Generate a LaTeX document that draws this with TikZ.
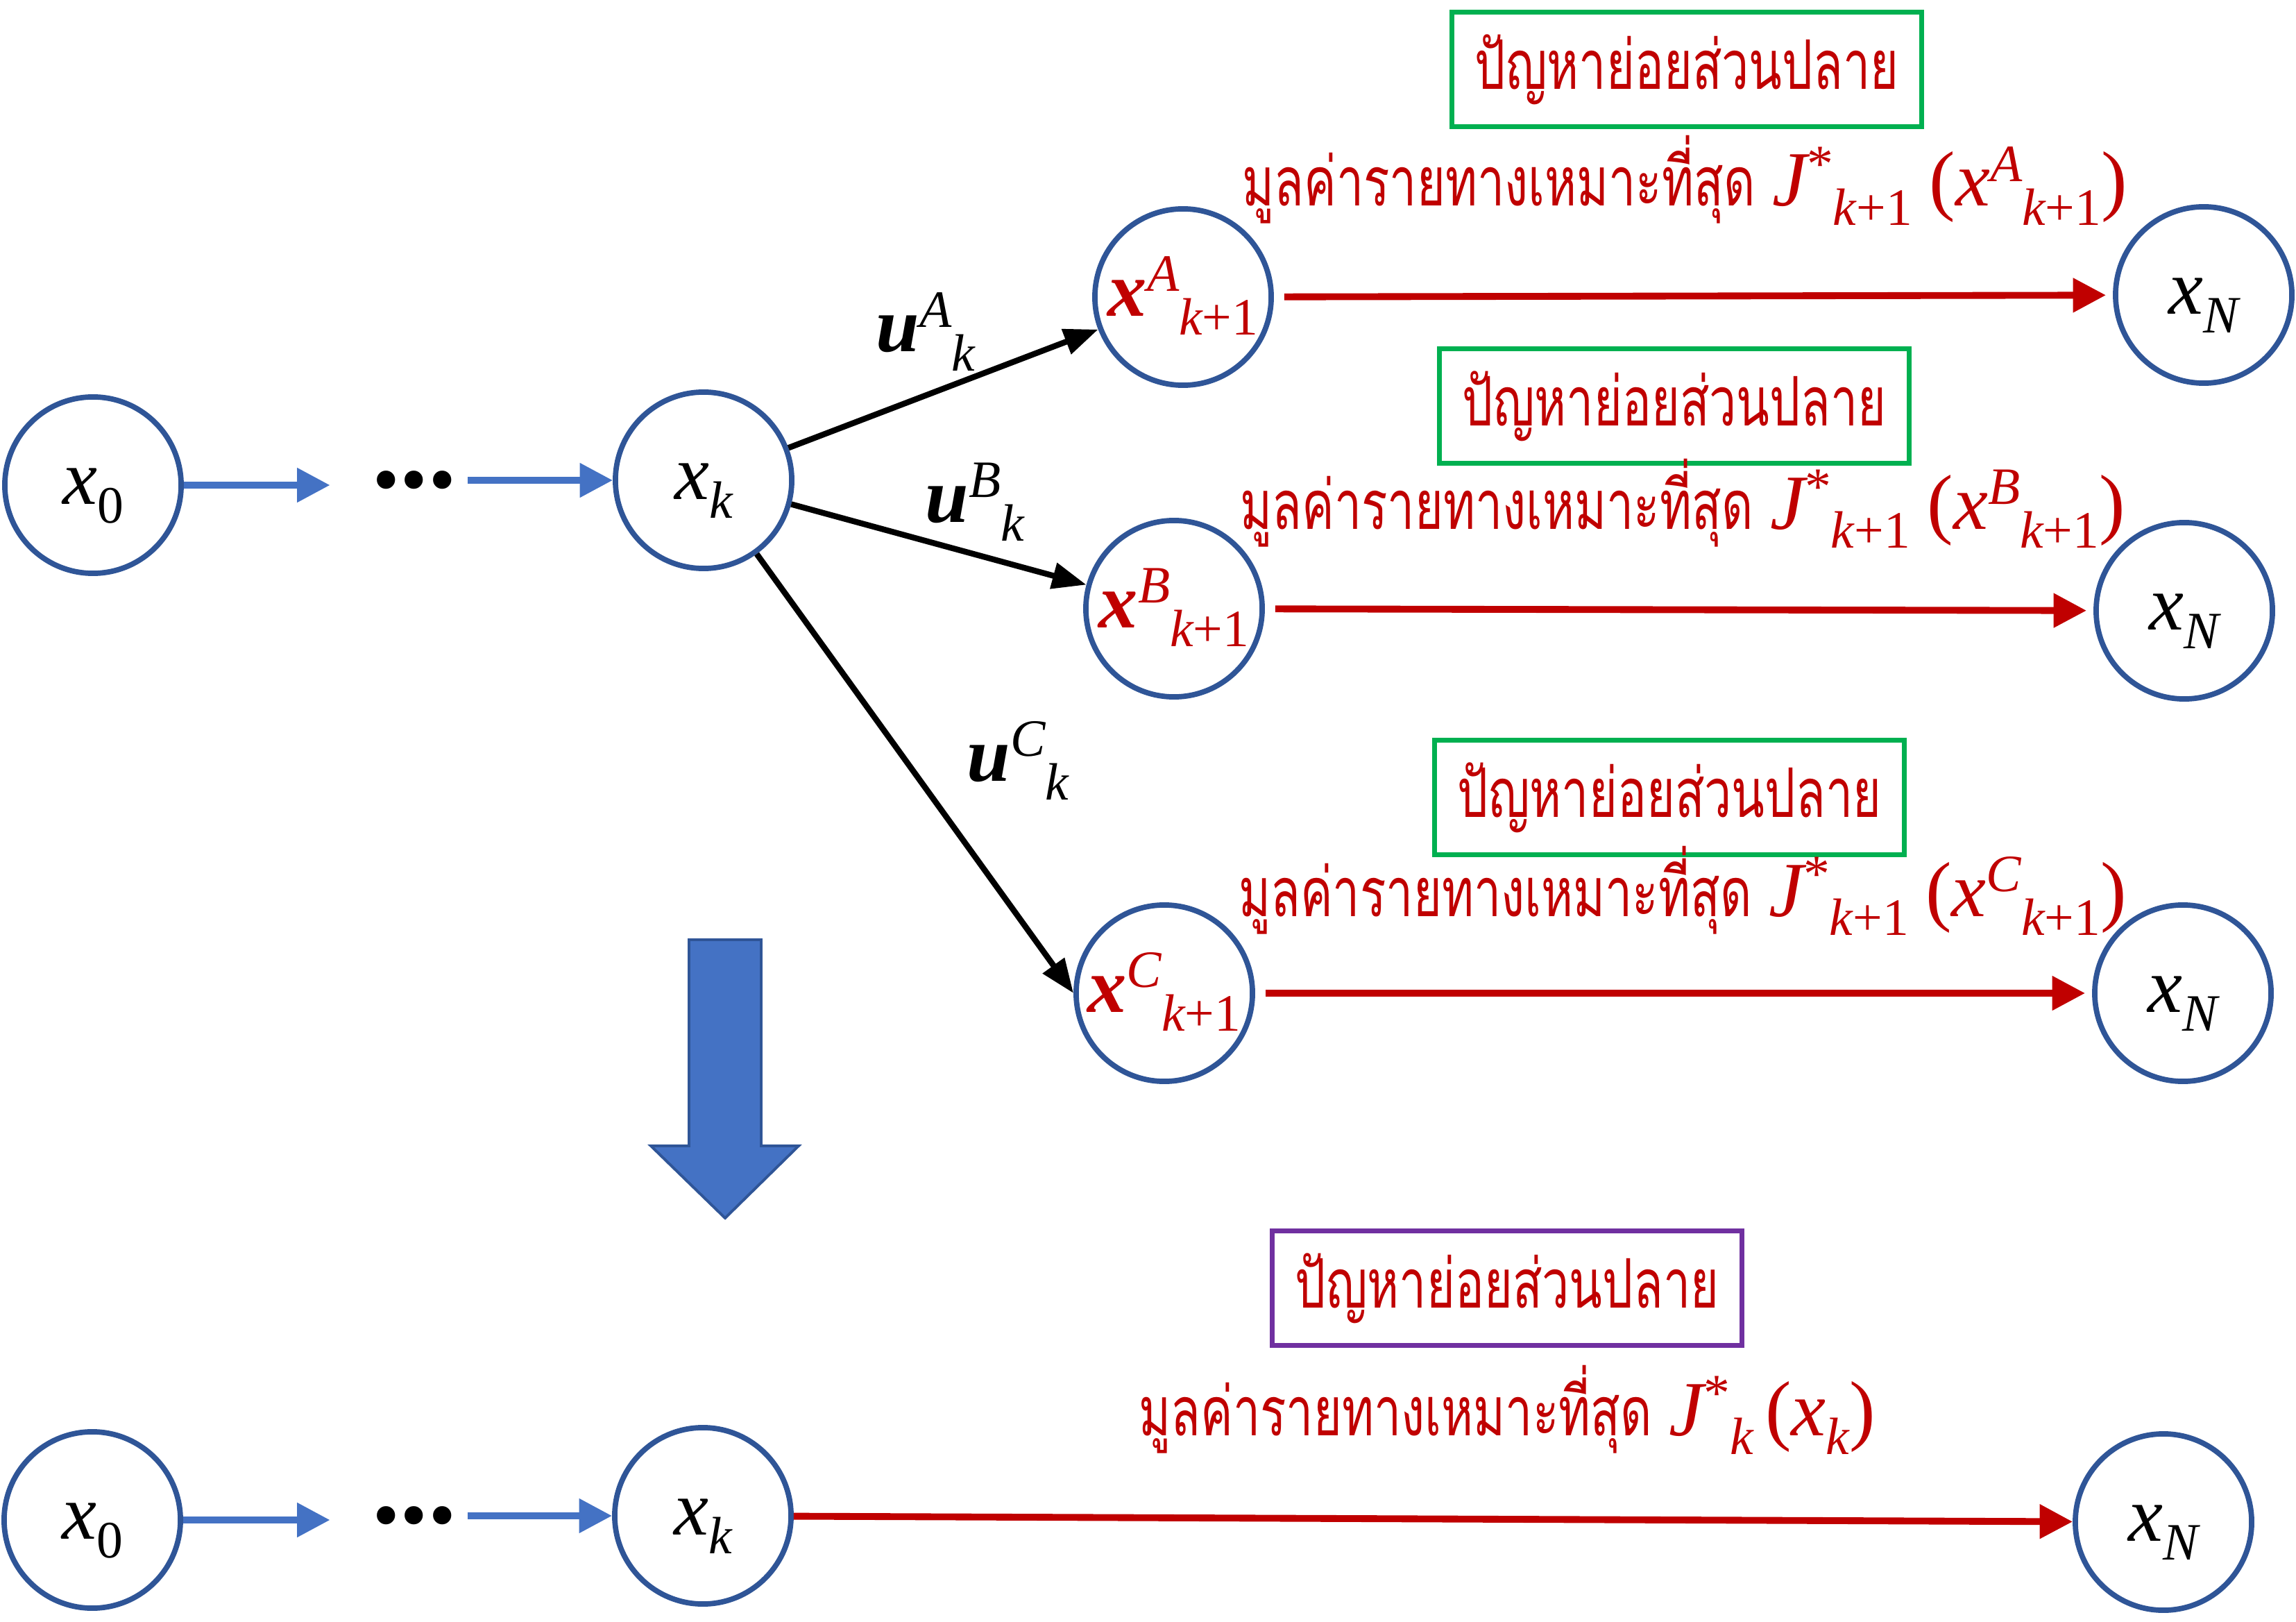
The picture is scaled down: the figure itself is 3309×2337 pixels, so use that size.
\documentclass[tikz,border=0pt]{standalone}
\usepackage{fontspec}
\setmainfont{Liberation Serif}
\newfontfamily\thaifont[Script=Thai, FakeStretch=0.71]{Loma}
\usetikzlibrary{arrows.meta}
\definecolor{nodeblue}{HTML}{2F5597}
\definecolor{arrblue}{HTML}{4472C4}
\definecolor{cred}{HTML}{C00000}
\definecolor{cgreen}{HTML}{00B050}
\definecolor{cpurple}{HTML}{7030A0}
\newcommand{\bigsz}{\fontsize{32}{36}\selectfont}
\newcommand{\smsz}{\fontsize{21.5}{24}\selectfont}
\newcommand{\thaisz}{\thaifont\fontsize{28}{30}\selectfont}
\newcommand{\mysup}[1]{\raisebox{10pt}{\smsz #1}}
\newcommand{\mysub}[1]{\raisebox{-7.7pt}{\smsz #1}}
\newcommand{\kone}{\itshape k\upshape +1}
\begin{document}
\begin{tikzpicture}[x=0.01cm, y=-0.01cm,
  state/.style={circle, draw=nodeblue, line width=2.2pt, minimum size=2.54cm,
    inner sep=0pt, text height=0.8cm, text depth=0.26cm, font=\bigsz},
  tbox/.style={draw, line width=2pt, minimum width=6.76cm, minimum height=1.64cm,
    inner sep=0pt, text height=0.9cm, text depth=0.34cm, text=cred, font=\thaisz},
  costlbl/.style={anchor=base, inner sep=0pt, text=cred},
  ulbl/.style={anchor=base west, inner sep=0pt},
  dotsnode/.style={inner sep=0pt, font=\fontsize{46}{48}\selectfont\bfseries},
  blk/.style={-{Triangle[length=14pt,width=10.5pt]}, line width=2.4pt, black},
  redarr/.style={-{Triangle[length=13.5pt,width=13.5pt]}, line width=2.8pt, cred,
    shorten <=0.15cm, shorten >=0.1cm},
  bluarr/.style={-{Triangle[length=13.5pt,width=13.5pt]}, line width=2.8pt, arrblue}
]
\useasboundingbox (0,0) rectangle (3309,2337);

% ---------- top part ----------
\node[state] (x0) at (134,699) {\itshape x\mysub{\upshape 0}};
\node[dotsnode] (dots) at (597,692) {...};
\node[state] (xk) at (1014,692) {\itshape x\mysub{\itshape k}};

\node[state, text=cred] (xA) at (1705,428) {{\bfseries\itshape x}\mysup{\itshape A}\mysub{\kone}};
\node[state, text=cred] (xB) at (1692,877) {{\bfseries\itshape x}\mysup{\itshape B}\mysub{\kone}};
\node[state, text=cred] (xC) at (1678,1431) {{\bfseries\itshape x}\mysup{\itshape C}\mysub{\kone}};

\node[state] (xNA) at (3176,425) {\itshape x\mysub{\itshape N}};
\node[state] (xNB) at (3148,880) {\itshape x\mysub{\itshape N}};
\node[state] (xNC) at (3146,1431) {\itshape x\mysub{\itshape N}};

\draw[bluarr, shorten >=0.6cm] (x0.east) -- (x0.east -| dots.west);
\draw[bluarr, shorten <=0.16cm] (dots.east |- xk.west) -- (xk.west);

\draw[blk] (xk) -- (xA);
\draw[blk] (xk) -- (xB);
\draw[blk] (xk) -- (xC.west);

\node[ulbl] (uA) at (1262,507) {{\bigsz\bfseries\itshape u}\mysup{\itshape A}\mysub{\itshape k}};
\node[ulbl] (uB) at (1333,752) {{\bigsz\bfseries\itshape u}\mysup{\itshape B}\mysub{\itshape k}};
\node[ulbl] (uC) at (1393,1125) {{\bigsz\bfseries\itshape u}\mysup{\itshape C}\mysub{\itshape k}};

\draw[redarr] (xA) -- (xNA);
\draw[redarr] (xB) -- (xNB);
\draw[redarr] (xC) -- (xNC);

\node[tbox, draw=cgreen] (boxA) at (2431,100) {ปัญหาย่อยส่วนปลาย};
\node[tbox, draw=cgreen] (boxB) at (2413,585) {ปัญหาย่อยส่วนปลาย};
\node[tbox, draw=cgreen] (boxC) at (2406,1149) {ปัญหาย่อยส่วนปลาย};

\node[costlbl] (costA) at (2428,297) {{\thaisz มูลค่ารายทางเหมาะที่สุด}\hspace{7pt}{\bigsz\itshape J}\mysup{*}\mysub{\kone}\hspace{7pt}{\bigsz (}{\bigsz\itshape x}\mysup{\itshape A}\mysub{\kone}{\bigsz )}};
\node[costlbl] (costB) at (2425,762) {{\thaisz มูลค่ารายทางเหมาะที่สุด}\hspace{7pt}{\bigsz\itshape J}\mysup{*}\mysub{\kone}\hspace{7pt}{\bigsz (}{\bigsz\itshape x}\mysup{\itshape B}\mysub{\kone}{\bigsz )}};
\node[costlbl] (costC) at (2425,1320) {{\thaisz มูลค่ารายทางเหมาะที่สุด}\hspace{7pt}{\bigsz\itshape J}\mysup{*}\mysub{\kone}\hspace{7pt}{\bigsz (}{\bigsz\itshape x}\mysup{\itshape C}\mysub{\kone}{\bigsz )}};

% ---------- big down arrow ----------
\draw[fill=arrblue, draw=nodeblue, line width=1.1pt]
  (993,1354) -- (1097,1354) -- (1097,1651) -- (1151,1651) -- (1045,1755)
  -- (938,1651) -- (993,1651) -- cycle;

% ---------- bottom part ----------
\node[state] (bx0) at (133,2190) {\itshape x\mysub{\upshape 0}};
\node[dotsnode] (bdots) at (597,2184) {...};
\node[state] (bxk) at (1013,2184) {\itshape x\mysub{\itshape k}};
\node[state] (bxN) at (3118,2193) {\itshape x\mysub{\itshape N}};

\draw[bluarr, shorten >=0.6cm] (bx0.east) -- (bx0.east -| bdots.west);
\draw[bluarr, shorten <=0.16cm] (bdots.east |- bxk.west) -- (bxk.west);
\draw[redarr, shorten <=0cm, shorten >=0cm] (bxk) -- (bxN);

\node[tbox, draw=cpurple] (boxD) at (2172,1856) {ปัญหาย่อยส่วนปลาย};
\node[costlbl] (costD) at (2172,2068) {{\thaisz มูลค่ารายทางเหมาะที่สุด}\hspace{7pt}{\bigsz\itshape J}\mysup{*}\mysub{\itshape k}\hspace{5pt}{\bigsz (}{\bigsz\itshape x}\mysub{\itshape k}{\bigsz )}};
\end{tikzpicture}
\end{document}
